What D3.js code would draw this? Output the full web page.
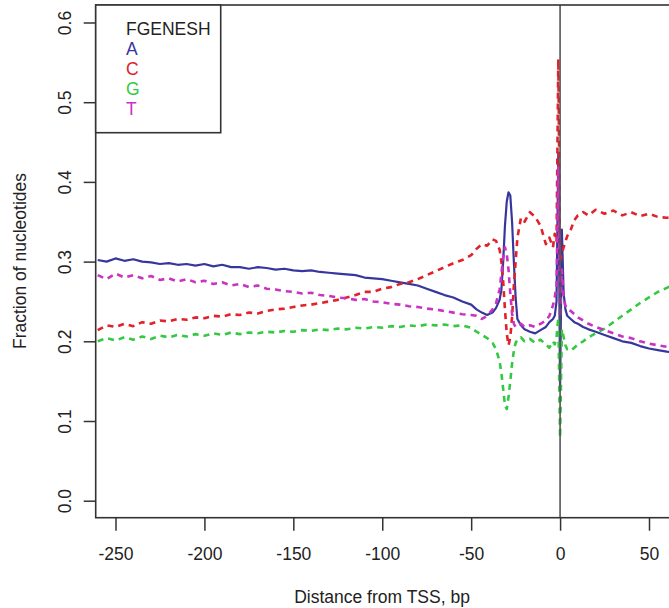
<html>
<head>
	<meta charset='utf-8' />
	<title>Fraction of nucleotides around TSS</title>
	<script src="https://d3js.org/d3.v7.min.js"></script>
	<style>
	body { margin:0; background:#fff; }
	text { font-family: "Liberation Sans", Arial, sans-serif; fill:#222; }
	</style>
</head>
<body>
<script>

// distance from TSS (bp)
var pos = [-260,-255,-250,-245,-240,-235,-230,-225,-220,-215,-210,-205,-200,-195,-190,-185,-180,-175,-170,-165,
	-160,-155,-150,-145,-140,-135,-130,-125,-120,-115,-110,-105,-100,-95,-90,-85,-80,-75,-70,-65,-60,-55,-50,
	-47,-44,-41,-38,-36,-34,-33,-32,-31,-30,-29,-28,-27,-26,-25,-24,-22,-20,-17,-14,-11,-8,-6,-4,-3,
	-2,-1,0,1,2,3,4,6,8,10,13,16,20,25,30,35,40,45,50,55,60,65];

var fracA = [0.302,0.300,0.304,0.301,0.303,0.300,0.299,0.297,0.298,0.296,0.297,0.295,0.297,0.294,0.296,0.293,0.293,0.291,0.293,0.292,
	0.290,0.291,0.289,0.288,0.289,0.287,0.286,0.285,0.284,0.283,0.280,0.279,0.278,0.276,0.274,0.272,0.270,0.266,0.262,0.258,0.255,0.250,0.246,
	0.240,0.236,0.233,0.236,0.242,0.252,0.265,0.300,0.345,0.375,0.387,0.383,0.350,0.300,0.255,0.228,0.220,0.215,0.212,0.210,0.214,0.218,0.224,0.228,0.232,
	0.250,0.436,0.140,0.340,0.260,0.240,0.232,0.228,0.224,0.222,0.218,0.215,0.212,0.208,0.204,0.200,0.198,0.194,0.191,0.189,0.187,0.186];

var fracC = [0.214,0.220,0.218,0.222,0.219,0.224,0.222,0.226,0.225,0.228,0.227,0.230,0.229,0.232,0.231,0.234,0.233,0.236,0.235,0.238,
	0.240,0.241,0.243,0.245,0.246,0.248,0.250,0.252,0.255,0.258,0.262,0.262,0.266,0.268,0.272,0.274,0.278,0.283,0.288,0.293,0.298,0.302,0.308,
	0.316,0.322,0.320,0.328,0.326,0.315,0.300,0.275,0.240,0.210,0.195,0.205,0.230,0.270,0.300,0.330,0.355,0.350,0.362,0.356,0.345,0.322,0.330,0.318,0.335,
	0.325,0.554,0.300,0.310,0.318,0.325,0.332,0.340,0.352,0.358,0.362,0.358,0.365,0.360,0.364,0.358,0.362,0.357,0.360,0.356,0.355,0.356];

var fracG = [0.200,0.204,0.201,0.205,0.202,0.206,0.203,0.207,0.205,0.208,0.206,0.209,0.207,0.210,0.208,0.211,0.209,0.211,0.210,0.212,
	0.211,0.213,0.212,0.214,0.213,0.215,0.214,0.216,0.215,0.217,0.216,0.218,0.217,0.219,0.218,0.220,0.219,0.221,0.220,0.221,0.219,0.220,0.217,
	0.212,0.208,0.204,0.198,0.190,0.175,0.160,0.140,0.120,0.115,0.130,0.150,0.172,0.188,0.198,0.202,0.205,0.200,0.203,0.198,0.202,0.196,0.192,0.200,0.196,
	0.205,0.230,0.079,0.215,0.205,0.195,0.190,0.188,0.192,0.196,0.200,0.205,0.210,0.216,0.224,0.232,0.240,0.248,0.255,0.262,0.267,0.272];

var fracT = [0.283,0.278,0.285,0.280,0.283,0.279,0.282,0.277,0.279,0.275,0.278,0.274,0.276,0.272,0.274,0.270,0.272,0.268,0.270,0.266,
	0.265,0.263,0.262,0.260,0.261,0.258,0.257,0.255,0.254,0.252,0.253,0.250,0.249,0.247,0.246,0.244,0.243,0.241,0.240,0.238,0.236,0.234,0.233,
	0.232,0.228,0.232,0.240,0.248,0.265,0.285,0.305,0.318,0.310,0.290,0.260,0.235,0.222,0.218,0.220,0.222,0.218,0.220,0.218,0.222,0.226,0.232,0.245,0.255,
	0.270,0.420,0.230,0.290,0.255,0.245,0.240,0.238,0.234,0.230,0.226,0.222,0.218,0.214,0.210,0.206,0.204,0.200,0.197,0.195,0.193,0.192];

var bases = ["A","C","G","T"];
var colors = ["#36369e","#e0222a","#33c944","#c833c4"];
var xTicks = [-250,-200,-150,-100,-50,0,50];
var yTicks = [0.0,0.1,0.2,0.3,0.4,0.5,0.6];

var series = [fracA,fracC,fracG,fracT];

var width = 669, height = 608;
var plotLeft = 95.7, plotTop = 5, plotBottom = 517.7, plotRight = 672;
var fs = "17.5px";

var svg = d3.select("body").append("svg")
	.attr("width", width)
	.attr("height", height);

var xScale = d3.scaleLinear().domain([-250,50]).range([115.5,649]);
var yScale = d3.scaleLinear().domain([0,0.6]).range([500.7,22.5]);

svg.append("clipPath").attr("id","plotclip")
	.append("rect")
	.attr("x",plotLeft).attr("y",plotTop)
	.attr("width",plotRight-plotLeft).attr("height",plotBottom-plotTop);

var plot = svg.append("g").attr("clip-path","url(#plotclip)");

var line = d3.line()
	.x(function(d,i) { return xScale(pos[i]); })
	.y(function(d) { return yScale(d); });

// lines: A solid, others dashed
series.forEach(function(s,k) {
	plot.append("path")
		.datum(s)
		.attr("fill","none")
		.attr("stroke",colors[k])
		.attr("stroke-width", k==0 ? 2.2 : 2.6)
		.attr("stroke-dasharray", k==0 ? null : "6,5")
		.attr("stroke-linejoin","round")
		.attr("d", line);
});

// TSS line
plot.append("line")
	.attr("x1",xScale(0)).attr("x2",xScale(0))
	.attr("y1",plotTop).attr("y2",plotBottom)
	.attr("stroke","#555").attr("stroke-width",1.6);

// box
svg.append("rect")
	.attr("x",plotLeft).attr("y",plotTop)
	.attr("width",plotRight-plotLeft).attr("height",plotBottom-plotTop)
	.attr("fill","none").attr("stroke","#333").attr("stroke-width",1.6);

// axes
var xAxis = svg.append("g")
	.attr("transform","translate(0," + plotBottom + ")")
	.call(d3.axisBottom(xScale).tickValues(xTicks).tickSize(13).tickPadding(17).tickFormat(d3.format("d")));
xAxis.select(".domain").remove();

var yAxis = svg.append("g")
	.attr("transform","translate(" + plotLeft + ",0)")
	.call(d3.axisLeft(yScale).tickValues(yTicks).tickSize(12).tickFormat(d3.format(".1f")));
yAxis.select(".domain").remove();

svg.selectAll(".tick line").attr("stroke","#333").attr("stroke-width",1.5);
svg.selectAll(".tick text").attr("font-size",fs).attr("font-family","Liberation Sans, Arial, sans-serif").attr("fill","#333");

xAxis.selectAll(".tick text").text(function(d) { return d < 0 ? "-" + Math.abs(d) : d; });

yAxis.selectAll(".tick text")
	.attr("x",null).attr("dy",null)
	.attr("text-anchor","middle")
	.attr("transform","translate(-31,0) rotate(-90) translate(0,6)");

// titles
svg.append("text")
	.attr("x",382).attr("y",603)
	.attr("text-anchor","middle")
	.attr("font-size",fs)
	.text("Distance from TSS, bp");

svg.append("text")
	.attr("transform","translate(26,261) rotate(-90)")
	.attr("text-anchor","middle")
	.attr("font-size",fs)
	.text("Fraction of nucleotides");

// legend
var legend = svg.append("g");
legend.append("rect")
	.attr("x",plotLeft).attr("y",plotTop)
	.attr("width",220.7-plotLeft).attr("height",132.7-plotTop)
	.attr("fill","#fff").attr("stroke","#333").attr("stroke-width",1.6);
legend.append("text")
	.attr("x",126).attr("y",35)
	.attr("font-size",fs)
	.text("FGENESH");
bases.forEach(function(b,k) {
	legend.append("text")
		.attr("x",126).attr("y",55 + k*20)
		.attr("font-size",fs)
		.style("fill",colors[k])
		.text(b);
});

</script>
</body>
</html>
